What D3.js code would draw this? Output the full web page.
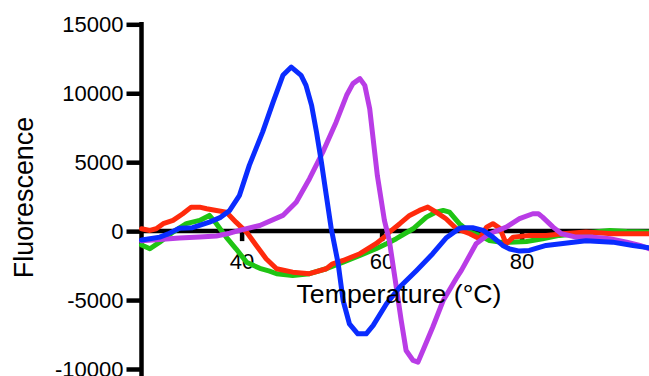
<!DOCTYPE html>
<html><head><meta charset="utf-8">
<script src="https://cdn.jsdelivr.net/npm/d3@7"></script>
<style>body{margin:0;background:#fff}svg{display:block;background:#fff}text{font-family:"Liberation Sans",Arial,sans-serif;fill:#000}</style>
</head><body><svg id="c" width="649" height="376"></svg>
<script>
const xTicks=[40,60,80];
const yTicks=[-10000,-5000,0,5000,10000,15000];
const xTitle="Temperature (°C)";
const yTitle="Fluorescence";

// [temperature °C, fluorescence]
const blue=[[25.7,-650],[26.9,-550],[28.3,-435],[29.5,-200],[31.1,200],[33.0,250],[35.4,650],[37.0,1000],[38.3,1500],[39.7,2600],[41.1,4770],[43.0,7180],[44.5,9360],[45.9,11300],[47.1,11900],[48.5,11300],[49.2,10570],[50.0,9120],[50.7,7180],[51.4,5000],[52.1,2590],[52.8,200],[53.8,-2370],[54.5,-5030],[55.4,-6720],[56.6,-7450],[57.8,-7450],[58.8,-6840],[60.7,-5270],[62.6,-4060],[65.0,-2850],[67.3,-1640],[69.2,-500],[71.1,200],[71.6,250],[73.0,250],[74.5,50],[75.9,-435],[77.3,-1040],[78.3,-1300],[79.7,-1450],[81.1,-1400],[83.5,-1040],[85.9,-900],[89.2,-700],[93.0,-800],[95.9,-1040],[98.2,-1200]];
const purple=[[25.7,-700],[28.3,-600],[31.1,-500],[34.0,-420],[36.4,-350],[38.3,-150],[39.7,50],[42.6,410],[45.9,1140],[47.8,2100],[49.7,3800],[51.6,5730],[53.5,7900],[55.0,9850],[55.9,10700],[56.9,11060],[57.6,10570],[58.3,8880],[59.4,4000],[60.4,776],[61.1,-675],[62.1,-4060],[62.8,-6480],[63.5,-8660],[64.5,-9380],[65.2,-9500],[66.1,-8420],[67.3,-6970],[68.8,-5030],[70.7,-3400],[71.4,-2850],[73.5,-915],[75.4,-190],[77.8,290],[79.7,900],[81.6,1260],[82.4,1260],[83.0,1015],[84.5,290],[85.7,-190],[87.8,-435],[90.2,-435],[92.6,-550],[95.0,-800],[96.9,-1040],[98.2,-1280]];
const green=[[25.7,-1000],[26.9,-1280],[28.3,-800],[30.2,-70],[32.1,540],[34.0,776],[35.4,1140],[36.4,540],[37.8,-435],[39.2,-1280],[40.7,-2250],[42.6,-2700],[44.0,-2900],[45.0,-3090],[47.3,-3215],[49.7,-3090],[52.1,-2730],[54.5,-2250],[56.9,-1760],[59.2,-1280],[60.7,-915],[62.1,-550],[64.5,170],[66.4,1015],[67.8,1380],[68.8,1500],[69.7,1380],[71.1,540],[72.6,-70],[74.0,-310],[75.4,-675],[76.9,-800],[78.3,-800],[80.7,-750],[83.0,-550],[85.4,-310],[87.8,-190],[92.6,50],[95.0,-20],[98.2,-70]];
const red=[[25.7,170],[26.9,50],[27.8,170],[28.8,540],[30.2,776],[31.6,1260],[32.8,1740],[34.0,1740],[35.0,1620],[36.4,1500],[37.8,1380],[39.2,650],[40.7,-70],[42.1,-1040],[43.5,-2000],[45.0,-2730],[47.3,-2975],[49.7,-3090],[52.1,-2730],[53.0,-2370],[54.5,-2130],[56.9,-1640],[59.2,-915],[60.7,-310],[61.1,-70],[62.6,540],[64.0,1140],[65.4,1500],[66.6,1740],[67.8,1380],[69.2,900],[70.7,170],[72.6,-190],[74.0,-550],[75.0,290],[75.9,540],[76.9,200],[77.8,-915],[78.8,-435],[81.1,-310],[83.5,-310],[85.9,-190],[89.2,-70],[93.0,-190],[98.2,-190]];

const seriesList=[{data:green,color:"#1fc414"},{data:red,color:"#ff2a0c"},{data:purple,color:"#b93ce6"},{data:blue,color:"#0a2cff"}];

const W=649,H=376;
const svg=d3.select("#c");
const x=d3.scaleLinear().domain([25.7,98.2]).range([141.5,649]);
const y=d3.scaleLinear().domain([-10000,15000]).range([369,24.3]);
const fmt=d=>String(d);

// Axes (lines and ticks)
const gy=svg.append("g").attr("transform",`translate(${x.range()[0]},0)`)
  .call(d3.axisLeft(y).tickValues(yTicks).tickSize(15).tickSizeOuter(0).tickPadding(3).tickFormat(fmt));
gy.select(".domain").remove();
gy.selectAll(".tick line").attr("stroke","#000").attr("stroke-width",4.5);
gy.selectAll(".tick text").attr("font-size",22).attr("font-family","Liberation Sans, Arial, sans-serif").attr("fill","#000");
gy.append("line").attr("x1",0).attr("x2",0).attr("y1",y(15000)-2.2).attr("y2",H).attr("stroke","#000").attr("stroke-width",4.5);

const gx=svg.append("g").attr("transform",`translate(0,${y(0)})`)
  .call(d3.axisBottom(x).tickValues(xTicks).tickSize(10).tickSizeOuter(0).tickPadding(12).tickFormat(fmt));
gx.select(".domain").remove();
gx.selectAll(".tick line").attr("stroke","#000").attr("stroke-width",4.5);
gx.selectAll(".tick text").attr("font-size",22).attr("font-family","Liberation Sans, Arial, sans-serif").attr("fill","#000");
gx.append("line").attr("x1",x.range()[0]).attr("x2",W).attr("y1",0).attr("y2",0).attr("stroke","#000").attr("stroke-width",4.5);

// Curves
const line=d3.line().x(d=>x(d[0])).y(d=>y(d[1])).curve(d3.curveLinear);
svg.append("g").selectAll("path").data(seriesList).join("path")
  .attr("d",d=>line(d.data)).attr("fill","none").attr("stroke",d=>d.color)
  .attr("stroke-width",5).attr("stroke-linejoin","round").attr("stroke-linecap","round");

// Titles
svg.append("text").attr("x",399).attr("y",303).attr("text-anchor","middle").attr("font-size",26.7).text(xTitle);
svg.append("text").attr("transform","translate(33,197.5) rotate(-90)").attr("text-anchor","middle").attr("font-size",26.9).text(yTitle);
</script></body></html>
